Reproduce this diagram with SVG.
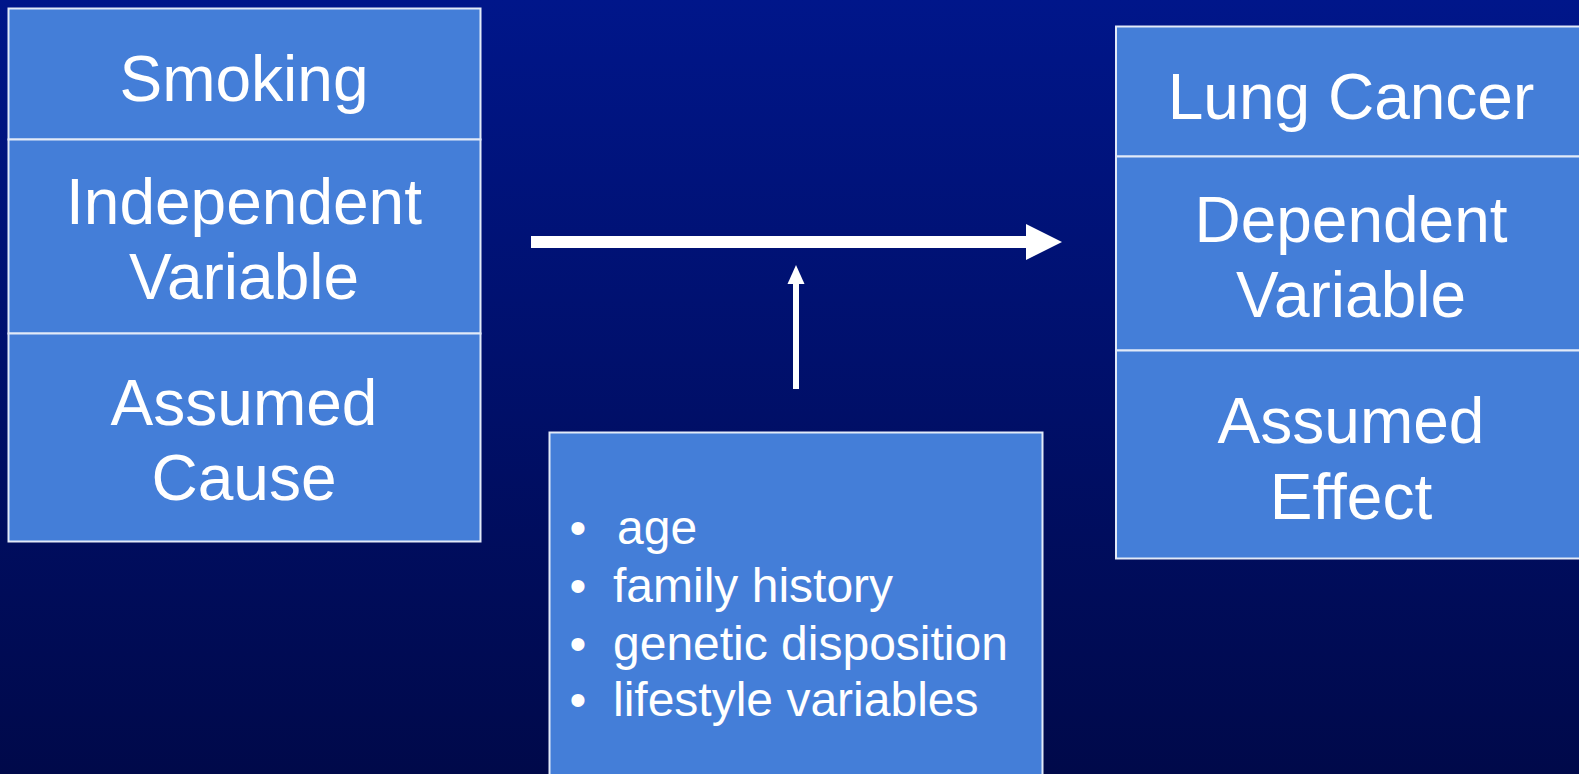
<svg xmlns="http://www.w3.org/2000/svg" width="1579" height="774" viewBox="0 0 1579 774">
<defs>
<linearGradient id="bg" x1="0" y1="0" x2="0" y2="1">
<stop offset="0" stop-color="#00168A"/>
<stop offset="1" stop-color="#00094A"/>
</linearGradient>
</defs>
<style>
.box{fill:#447ED8;stroke:#E2EAF8;stroke-width:2}
.t{font-family:"Liberation Sans",Arial,sans-serif;font-size:64px;fill:#fff;text-anchor:middle}
.b{font-family:"Liberation Sans",Arial,sans-serif;font-size:48px;fill:#fff}
.conn{stroke:#fff;fill:none}
</style>
<rect width="1579" height="774" fill="url(#bg)"/>
<g id="smoking">
<rect class="box" x="8.5" y="8.5" width="472" height="131"/>
<text class="t" x="244" y="101">Smoking</text>
</g>
<g id="independent-variable">
<rect class="box" x="8.5" y="139.5" width="472" height="194"/>
<text class="t" x="244" y="224">Independent</text>
<text class="t" x="244" y="299">Variable</text>
</g>
<g id="assumed-cause">
<rect class="box" x="8.5" y="333.5" width="472" height="208"/>
<text class="t" x="244" y="425">Assumed</text>
<text class="t" x="244" y="500">Cause</text>
</g>
<g id="lung-cancer">
<rect class="box" x="1116" y="26.5" width="480" height="130"/>
<text class="t" x="1351" y="119">Lung Cancer</text>
</g>
<g id="dependent-variable">
<rect class="box" x="1116" y="156.5" width="480" height="194"/>
<text class="t" x="1351" y="242">Dependent</text>
<text class="t" x="1351" y="317">Variable</text>
</g>
<g id="assumed-effect">
<rect class="box" x="1116" y="350.5" width="480" height="208"/>
<text class="t" x="1351" y="443">Assumed</text>
<text class="t" x="1351" y="519">Effect</text>
</g>
<g id="confounders">
<rect class="box" x="549.5" y="432.5" width="493" height="360"/>
<text class="b" x="578" y="544" text-anchor="middle">•</text>
<text class="b" x="617" y="544">age</text>
<text class="b" x="578" y="602" text-anchor="middle">•</text>
<text class="b" x="613" y="602">family history</text>
<text class="b" x="578" y="660" text-anchor="middle">•</text>
<text class="b" x="613" y="660">genetic disposition</text>
<text class="b" x="578" y="716" text-anchor="middle">•</text>
<text class="b" x="613" y="716">lifestyle variables</text>
</g>
<g id="connectors">
<line class="conn" x1="531" y1="242" x2="1027" y2="242" stroke-width="12"/>
<polygon points="1026,224 1062,242 1026,260" fill="#fff"/>
<line class="conn" x1="796" y1="389" x2="796" y2="282" stroke-width="6"/>
<polygon points="787.5,284 796,265 804.5,284" fill="#fff"/>
</g>
</svg>
